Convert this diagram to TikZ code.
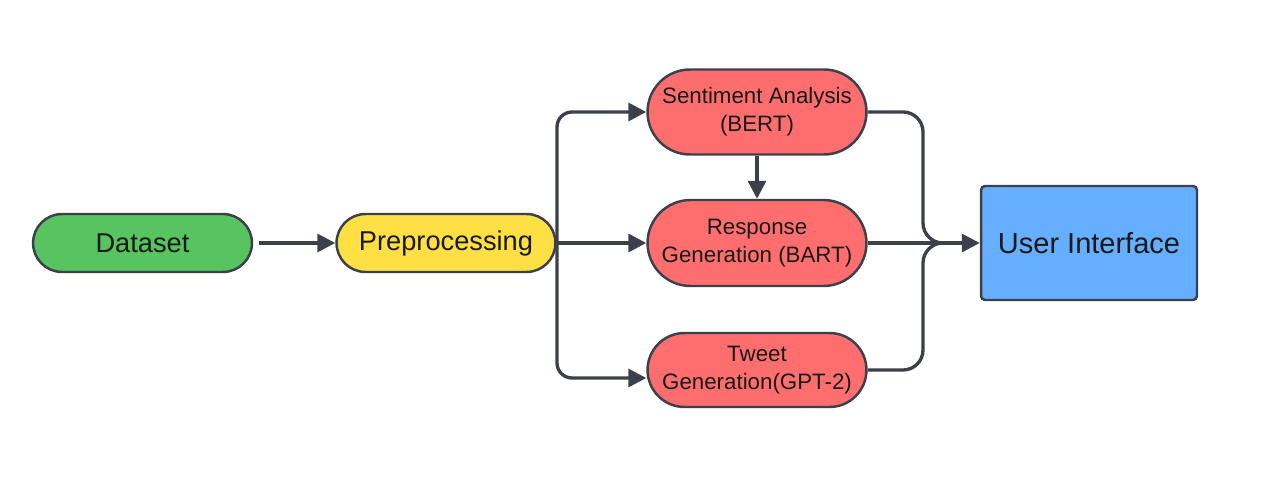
\documentclass[tikz,border=0pt]{standalone}
\usepackage{fontspec}
\setmainfont{Liberation Sans}
\usetikzlibrary{arrows.meta,shapes.misc}

\definecolor{edge}{HTML}{3B404A}
\definecolor{dsgreen}{HTML}{57C45F}
\definecolor{ppyellow}{HTML}{FFE044}
\definecolor{mdred}{HTML}{FF6E6E}
\definecolor{uiblue}{HTML}{66AEFF}

\tikzset{
    pill/.style={rounded rectangle, draw=edge, line width=1.4pt, text=black!90,
        minimum width=4.52cm, align=center, inner sep=2pt},
    bigtext/.style={font=\fontsize{15.5}{18}\selectfont},
    smalltext/.style={font=\fontsize{12.7}{16}\selectfont},
    link/.style={draw=edge, line width=1.9pt},
    arrow/.style={link, -{Triangle[length=0.36cm,width=0.36cm]}}
}

\begin{document}
\begin{tikzpicture}[x=0.02cm, y=-0.02cm]
    \useasboundingbox (0,0) rectangle (1280,479);

    \node[pill, bigtext, fill=dsgreen, minimum height=1.16cm] (data) at (142.5,243) {Dataset};
    \node[pill, bigtext, fill=ppyellow, minimum height=1.16cm] (pre) at (446,243) {Preprocessing};

    \node[pill, smalltext, fill=mdred, minimum height=1.7cm] (sent) at (757,112) {Sentiment Analysis\\(BERT)};
    \node[pill, smalltext, fill=mdred, minimum height=1.72cm] (resp) at (757,243) {Response\\Generation (BART)};
    \node[pill, smalltext, fill=mdred, minimum height=1.48cm] (tweet) at (757,370) {Tweet\\Generation(GPT-2)};

    \node[draw=edge, line width=1.4pt, fill=uiblue, rounded corners=0.08cm,
        font=\fontsize{16.5}{20}\selectfont, text=black!90,
        minimum width=4.32cm, minimum height=2.28cm] (ui) at (1089,243) {User Interface};

    % dataset to preprocessing
    \draw[arrow] ([xshift=0.12cm]data.east) -- (pre.west);

    % split towards the three models
    \coordinate (split) at (557,243);
    \draw[arrow, rounded corners=0.3cm] (split) |- (sent.west);
    \draw[arrow, rounded corners=0.3cm] (split) |- ([yshift=-0.16cm]tweet.west);
    \draw[arrow] (pre.east) -- (resp.west);

    \draw[arrow] (sent.south) -- (resp.north);

    % merge into the interface
    \coordinate (join) at (923,243);
    \coordinate (merge) at (950,243);
    \draw[link, rounded corners=0.4cm] (sent.east) -| (join) -- (merge);
    \draw[link, rounded corners=0.4cm] (tweet.east) -| (join) -- (merge);
    \draw[arrow] (resp.east) -- (ui.west);
\end{tikzpicture}
\end{document}
